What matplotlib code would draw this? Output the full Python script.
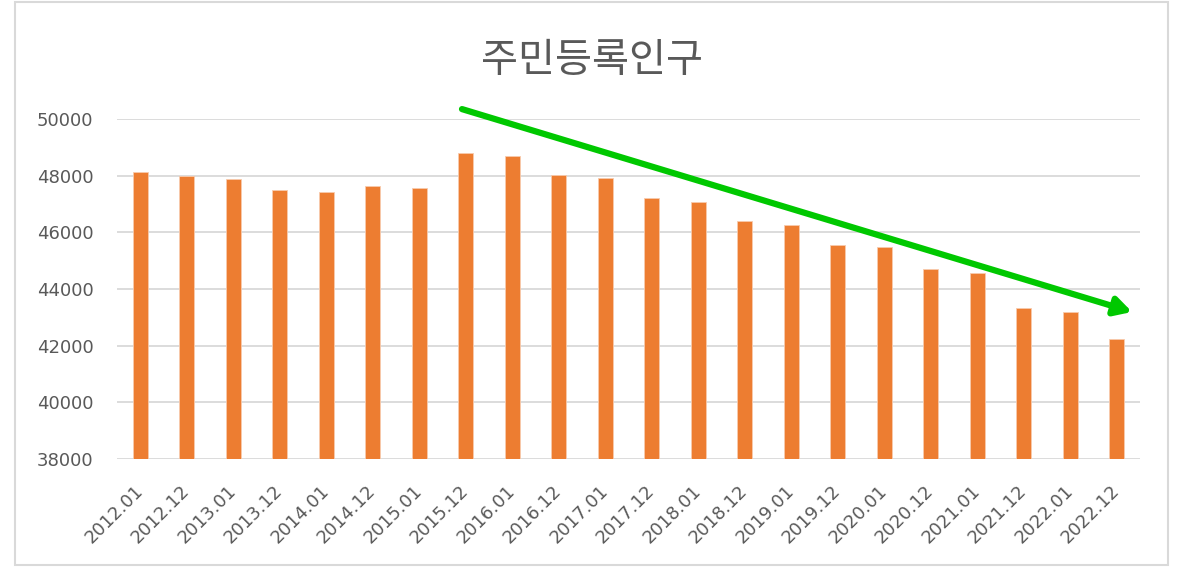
import matplotlib.pyplot as plt
from matplotlib.patches import Rectangle

# data
periods = ['2012.01', '2012.12', '2013.01', '2013.12', '2014.01', '2014.12',
           '2015.01', '2015.12', '2016.01', '2016.12', '2017.01', '2017.12',
           '2018.01', '2018.12', '2019.01', '2019.12', '2020.01', '2020.12',
           '2021.01', '2021.12', '2022.01', '2022.12']
population = [48140, 48000, 47870, 47490, 47440, 47620, 47570, 48790,
              48700, 48035, 47910, 47200, 47060, 46390, 46260, 45560,
              45480, 44690, 44560, 43320, 43190, 42250]

# trend arrow drawn over the bars (start / end in data units)
arrow_start = (6.92, 50350)
arrow_end = (21.33, 43190)

grey = '#595959'

fig = plt.figure(figsize=(11.79, 5.67), dpi=100)
ax = fig.add_axes([0.0992, 0.1905, 0.8677, 0.5996])

x = range(len(periods))
ax.bar(x, population, width=0.33, color='#ED7D31', edgecolor='#F8CBAD',
       linewidth=0.6, zorder=3)

ax.set_xlim(-0.5, len(periods) - 0.5)
ax.set_ylim(38000, 50000)
ax.set_yticks(range(38000, 50001, 2000))
ax.set_xticks(list(x))
ax.set_xticklabels(periods, rotation=45, ha='right', va='center',
                   rotation_mode='anchor')
ax.grid(axis='y', color='#d9d9d9', linewidth=1.3, zorder=0)
ax.set_axisbelow(True)
for s in ax.spines.values():
    s.set_visible(False)
ax.tick_params(axis='both', length=0, labelsize=13, colors=grey)
ax.tick_params(axis='y', pad=17)
ax.tick_params(axis='x', pad=21)

ax.annotate('', xy=arrow_end, xytext=arrow_start, annotation_clip=False,
            arrowprops=dict(arrowstyle='-|>,head_length=1.0,head_width=0.55',
                            color='#00c800', lw=4.5, shrinkA=0, shrinkB=0),
            zorder=5)

fig.text(592 / 1179, 1 - 61 / 567, '주민등록인구', ha='center', va='center',
         fontsize=29, color=grey,
         family=['Noto Sans CJK KR', 'DejaVu Sans'])

# light grey chart frame
fig.patches.append(Rectangle((15 / 1179, 2 / 567), 1153 / 1179, 563 / 567,
                             transform=fig.transFigure, fill=False,
                             edgecolor='#d9d9d9', linewidth=1.5))

fig.savefig('out.png', dpi=100)
